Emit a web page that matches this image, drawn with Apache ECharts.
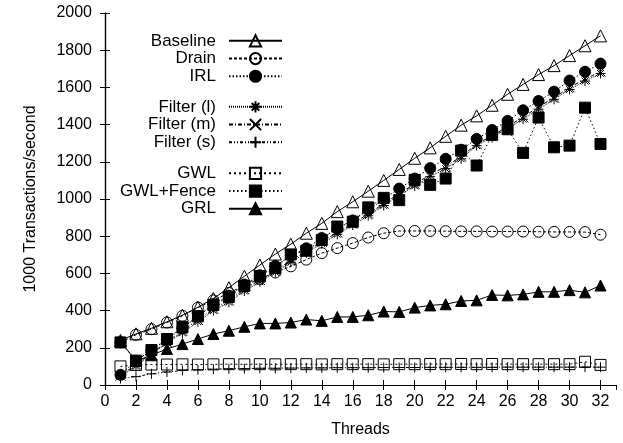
<!DOCTYPE html>
<html>
<head>
<meta charset="utf-8">
<script src="https://cdn.jsdelivr.net/npm/echarts@6/dist/echarts.min.js"></script>
<style>
html,body{margin:0;padding:0;background:#fff;}
#c{width:623px;height:443px;}
</style>
</head>
<body>
<div id="c"></div>
<script>
var threads = [1,2,3,4,5,6,7,8,9,10,11,12,13,14,15,16,17,18,19,20,21,22,23,24,25,26,27,28,29,30,31,32];
var baseline = [240,275,305,340,375,418,465,523,585,645,704,757,816,869,932,985,1042,1100,1159,1219,1275,1337,1397,1447,1504,1563,1616,1669,1717,1771,1824,1877];
var drain = [229,270,300,336,372,416,455,495,535,570,605,638,674,709,736,763,793,816,828,828,828,827,826,826,825,825,825,824,823,823,822,808];
var irl = [55,130,185,245,305,370,435,480,540,590,640,695,735,790,840,885,940,1000,1056,1110,1166,1216,1265,1323,1371,1420,1477,1527,1577,1637,1684,1728];
var filterL = [45,100,165,225,280,340,400,445,505,555,605,660,710,760,810,860,910,965,1020,1070,1120,1163,1216,1287,1330,1380,1429,1483,1536,1589,1634,1675];
var filterM = [50,110,170,232,290,350,410,455,515,565,615,670,718,770,820,868,920,975,1030,1080,1130,1175,1228,1295,1340,1390,1440,1495,1545,1600,1645,1685];
var filterS = [35,45,60,70,78,82,85,87,88,90,90,91,92,92,93,93,93,94,94,94,95,95,95,95,95,96,96,96,96,96,96,96];
var gwl = [100,108,110,110,111,110,111,112,111,112,111,112,112,111,112,112,112,111,112,112,113,112,113,112,113,112,112,112,112,112,125,108];
var gwlFence = [229,131,188,247,310,370,430,474,533,585,629,702,722,780,852,878,955,1006,994,1103,1076,1110,1260,1180,1345,1375,1248,1438,1278,1287,1491,1296];
var grl = [235,130,160,194,220,247,274,292,313,331,331,336,352,345,366,366,375,395,393,416,428,434,452,455,484,482,487,501,501,510,498,535];

var xTicks = {min:0, max:33, interval:2};
var yTicks = {min:0, max:2000, interval:200};

function pairs(arr){ return threads.map(function(t,i){ return [t, arr[i]]; }); }

var FONT = 'Liberation Sans';
var ASTER = 'path://M5,0L5,10M0,5L10,5M1.6,1.6L8.4,8.4M8.4,1.6L1.6,8.4';
var CROSS = 'path://M0,0L10,10M10,0L0,10';
var PLUS = 'path://M5,0L5,10M0,5L10,5';

function mk(name, arr, symbol, size, filled, dash){
  return {
    name: name, type: 'line', data: pairs(arr),
    symbol: symbol, symbolSize: size, showSymbol: true,
    lineStyle: {color:'#000', width:1, type: dash},
    itemStyle: {color: filled ? '#000' : 'rgba(0,0,0,0)', borderColor:'#000', borderWidth:1},
    emphasis: {disabled:true},
    z: 2
  };
}

var series = [
  mk('Baseline', baseline, 'triangle', 12, false, 'solid'),
  mk('Drain', drain, 'circle', 11, false, [3,2]),
  mk('IRL', irl, 'circle', 11, true, [1.5,2]),
  mk('Filter (l)', filterL, ASTER, 10, false, [1,1]),
  mk('Filter (m)', filterM, CROSS, 10, false, [4,2,1,2]),
  mk('Filter (s)', filterS, PLUS, 10, false, [3,2,1,2,1,2]),
  mk('GWL', gwl, 'rect', 11, false, [2,3]),
  mk('GWL+Fence', gwlFence, 'rect', 11, true, [1.5,2.5]),
  mk('GRL', grl, 'triangle', 11, true, 'solid')
];

function legend(names, top){
  return {
    data: names, top: top, right: 335, orient: 'vertical', align: 'right',
    itemWidth: 53, itemHeight: 14, itemGap: 0, selectedMode: false,
    textStyle: {fontFamily: FONT, fontSize: 17, color: '#000', lineHeight: 17.7, padding: [0,8,0,0]}
  };
}

var axisCommon = {
  axisLine: {show:true, lineStyle:{color:'#000', width:1.2}},
  axisTick: {show:true, inside:true, length:5, lineStyle:{color:'#000', width:1}},
  splitLine: {show:false}
};

var option = {
  animation: false,
  backgroundColor: '#fff',
  grid: {left:105, right:7, top:13, bottom:55},
  legend: [
    legend(['Baseline','Drain','IRL'], 27),
    legend(['Filter (l)','Filter (m)','Filter (s)'], 93),
    legend(['GWL','GWL+Fence','GRL'], 159.5)
  ],
  xAxis: [
    Object.assign({type:'value', min:xTicks.min, max:xTicks.max, interval:xTicks.interval, position:'bottom',
      name:'Threads', nameLocation:'middle', nameGap:37,
      nameTextStyle:{fontFamily:FONT, fontSize:16, color:'#000'},
      axisLabel:{fontFamily:FONT, fontSize:16, color:'#000', margin:9, showMaxLabel:false,
        formatter:function(v){ return String(v); }}}, axisCommon),
    Object.assign({type:'value', min:xTicks.min, max:xTicks.max, interval:xTicks.interval, position:'top',
      axisLabel:{show:false}}, axisCommon)
  ],
  yAxis: [
    Object.assign({type:'value', min:yTicks.min, max:yTicks.max, interval:yTicks.interval, position:'left',
      name:'1000 Transactions/second', nameLocation:'middle', nameGap:66,
      nameTextStyle:{fontFamily:FONT, fontSize:16, color:'#000'},
      axisLabel:{fontFamily:FONT, fontSize:16, color:'#000', margin:13,
        formatter:function(v){ return String(v); }}}, axisCommon),
    Object.assign({type:'value', min:yTicks.min, max:yTicks.max, interval:yTicks.interval, position:'right',
      axisLabel:{show:false}}, axisCommon)
  ],
  series: series
};

var chart = echarts.init(document.getElementById('c'), null, {renderer:'canvas'});
chart.setOption(option);
</script>
</body>
</html>
